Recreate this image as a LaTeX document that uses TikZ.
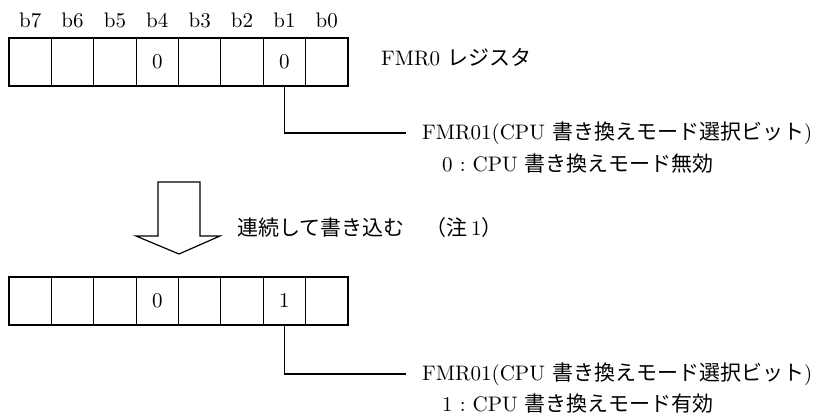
\documentclass[tikz,border=0pt]{standalone}
\usepackage{fontspec}
\setmainfont{lmroman10-regular.otf}
\newfontfamily\cjk{Noto Sans CJK JP}
\begin{document}
\begin{tikzpicture}[x=1pt,y=-1pt,
  cell/.style={draw,line width=1.2pt,minimum width=42.375pt,minimum height=48pt,inner sep=0pt,font=\fontsize{21pt}{25pt}\selectfont},
  lbl/.style={inner sep=0pt,anchor=base,font=\fontsize{21pt}{25pt}\selectfont},
  txt/.style={inner sep=0pt,anchor=base west,font=\fontsize{21pt}{25pt}\selectfont},
  lead/.style={line width=1.2pt}]
\useasboundingbox (0,0) rectangle (818,415);
% top register
\foreach \i/\v in {7/,6/,5/,4/0,3/,2/,1/0,0/} {
  \node[cell] (t\i) at ({9+42.375*(7-\i+0.5)},62) {\v};
  \node[lbl] (l\i) at ({9+42.375*(7-\i+0.5)},27) {b\i};
}
\node[txt] (name) at (381,65) {FMR0 {\cjk レジスタ}};
\coordinate (c1) at (406,133);
\draw[lead] (t1.south) |- (c1);
\node[txt] (d1) at (422,139) {FMR01(CPU {\cjk 書き換えモード選択ビット})};
\node[txt] (e1) at (442,171) {0\makebox[20pt]{:}CPU {\cjk 書き換えモード無効}};
% arrow
\draw[line width=1.2pt,line join=miter] (158,182) -- (200,182) -- (200,236) -- (220,236) -- (179,254) -- (136,236) -- (158,236) -- cycle;
\node[txt] (w) at (237,235) {{\cjk 連続して書き込む　（注}\,1{\cjk ）}};
% bottom register
\foreach \i/\v in {7/,6/,5/,4/0,3/,2/,1/1,0/} {
  \node[cell] (b\i) at ({9+42.375*(7-\i+0.5)},301) {\v};
}
\coordinate (c2) at (406,374);
\draw[lead] (b1.south) |- (c2);
\node[txt] (d2) at (422,380) {FMR01(CPU {\cjk 書き換えモード選択ビット})};
\node[txt] (e2) at (442,411) {1\makebox[20pt]{:}CPU {\cjk 書き換えモード有効}};
\end{tikzpicture}
\end{document}
